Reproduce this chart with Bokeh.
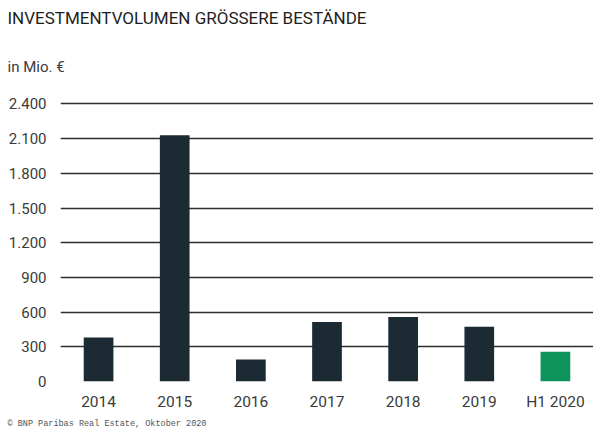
from bokeh.plotting import figure
from bokeh.models import Title, FixedTicker, ColumnDataSource
from bokeh.embed import file_html
from bokeh.resources import INLINE

categories = ["2014", "2015", "2016", "2017", "2018", "2019", "H1 2020"]
values = [380, 2130, 190, 515, 557, 474, 258]
colors = ["#1c2a33", "#1c2a33", "#1c2a33", "#1c2a33", "#1c2a33", "#1c2a33", "#0e935a"]
y_ticks = [0, 300, 600, 900, 1200, 1500, 1800, 2100, 2400]
y_tick_labels = ["0", "300", "600", "900", "1.200", "1.500", "1.800", "2.100", "2.400"]

source = ColumnDataSource(data=dict(cat=categories, val=values, color=colors))

p = figure(x_range=categories, y_range=(0, 2430), width=593, height=441,
           output_backend="svg", toolbar_location=None,
           min_border_left=60, min_border_right=0, min_border_top=100, min_border_bottom=60,
           title=None)
p.outline_line_color = None
p.background_fill_color = "white"
p.border_fill_color = "white"

p.vbar(x="cat", top="val", width=0.39, color="color", source=source, line_color=None)

# axes
p.yaxis.ticker = FixedTicker(ticks=y_ticks)
p.yaxis.major_label_overrides = {t: l for t, l in zip(y_ticks, y_tick_labels)}
for ax in (p.xaxis[0], p.yaxis[0]):
    ax.axis_line_color = None
    ax.major_tick_line_color = None
    ax.minor_tick_line_color = None
    ax.major_tick_out = 0
    ax.major_tick_in = 0
    ax.major_label_text_font = "Roboto"
    ax.major_label_text_color = "#3a3a3a"
p.yaxis.major_label_text_font_size = "15px"
p.yaxis.major_label_standoff = 14
p.xaxis.major_label_text_font_size = "15.5px"
p.xaxis.major_label_standoff = 11

p.xgrid.grid_line_color = None
p.ygrid.ticker = FixedTicker(ticks=y_ticks)
p.ygrid.grid_line_color = "#2e2e2e"
p.ygrid.grid_line_width = 1.4

# titles
sub = Title(text="in Mio. €", align="left", offset=-53, text_font="Roboto",
            text_font_size="15px", text_font_style="normal", text_color="#3a3a3a", standoff=50)
p.add_layout(sub, "above")
main = Title(text="INVESTMENTVOLUMEN GRÖSSERE BESTÄNDE", align="left", offset=-53,
             text_font="Roboto", text_font_size="17px", text_font_style="normal",
             text_color="#1e1e1e", standoff=6)
p.add_layout(main, "above")

foot = Title(text="© BNP Paribas Real Estate, Oktober 2020", align="left", offset=-53,
             text_font="Liberation Mono", text_font_size="8.5px", text_font_style="normal",
             text_color="#555555", standoff=7)
p.add_layout(foot, "below")

open("out.html", "w").write(file_html(p, INLINE))
